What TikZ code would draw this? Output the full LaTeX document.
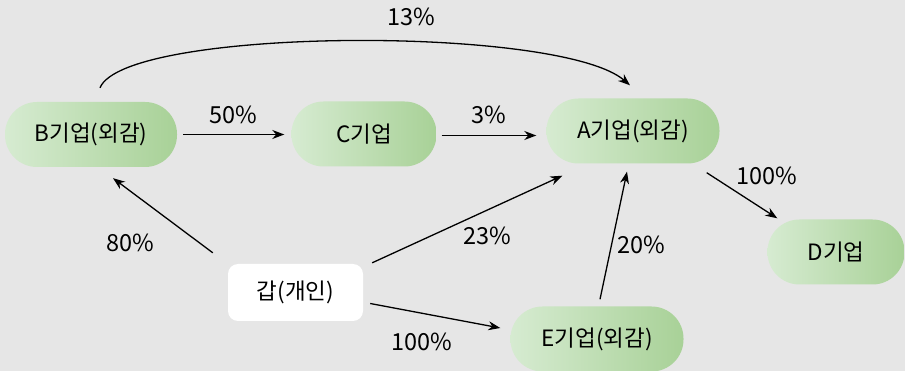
\documentclass[tikz,border=0pt]{standalone}
\usepackage{fontspec}
\setmainfont{Noto Sans CJK KR}
\usetikzlibrary{arrows.meta}
\definecolor{bg}{HTML}{E6E6E6}
\definecolor{gl}{HTML}{D6EBD1}
\definecolor{gr}{HTML}{A8D197}
\begin{document}
\begin{tikzpicture}[x=1pt,y=-1pt,
  firm/.style={rounded corners=32pt, left color=gl, right color=gr, draw=none,
    minimum height=65pt, inner sep=0pt, font=\fontsize{22.5}{26}\selectfont},
  person/.style={rounded corners=10pt, fill=white, draw=none, minimum width=135pt,
    minimum height=57pt, inner sep=0pt, font=\fontsize{22.5}{26}\selectfont},
  arr/.style={-{Stealth[length=12pt,width=9pt]}, line width=1.3pt, black},
  lbl/.style={font=\fontsize{23.5}{26}\selectfont, inner sep=0pt}]
\fill[bg] (0,0) rectangle (905,371);
\useasboundingbox (0,0) rectangle (905,371);
\node[firm, minimum width=172pt] (B) at (91,134.5) {B기업(외감)};
\node[firm, minimum width=145pt] (C) at (364,134) {C기업};
\node[firm, minimum width=173pt] (A) at (633,131) {A기업(외감)};
\node[firm, minimum width=137pt] (D) at (836,252) {D기업};
\node[firm, minimum width=173pt] (E) at (597,339) {E기업(외감)};
\node[person] (P) at (295.5,292.5) {갑(개인)};
% connectors
\draw[arr] ([xshift=6pt]B.east) -- ([xshift=-7pt]C.west |- B.east);
\draw[arr] ([xshift=5pt,yshift=-1.5pt]C.east) -- ([xshift=-10pt,yshift=-1.5pt]C.east -| A.west);
\draw[arr] ([xshift=9pt,yshift=14pt]B.north) .. controls (125,27) and (560,25) .. ([xshift=-3pt,yshift=13pt]A.north);
\draw[arr] ([xshift=-15pt,yshift=11pt]P.north west) -- ([xshift=22pt,yshift=-11pt]B.south);
\draw[arr] ([xshift=9pt,yshift=1pt]P.north east) -- ([xshift=16pt,yshift=-12pt]A.south west);
\draw[arr] ([xshift=7pt,yshift=-11pt]P.east) -- ([xshift=-10pt,yshift=11pt]E.west);
\draw[arr] ([xshift=3pt,yshift=7pt]E.north) -- ([xshift=-6pt,yshift=-8pt]A.south);
\draw[arr] ([xshift=-13pt,yshift=-9pt]A.south east) -- ([xshift=10pt,yshift=1pt]D.north west);
% labels
\node[lbl] (l13) at (411,17) {13\%};
\node[lbl] (l50) at (233,115) {50\%};
\node[lbl] (l3) at (489,115) {3\%};
\node[lbl] (l80) at (130,243) {80\%};
\node[lbl] (l23) at (487,236) {23\%};
\node[lbl] (l100a) at (422,342) {100\%};
\node[lbl] (l20) at (641,245) {20\%};
\node[lbl] (l100b) at (767,176) {100\%};
\end{tikzpicture}
\end{document}
